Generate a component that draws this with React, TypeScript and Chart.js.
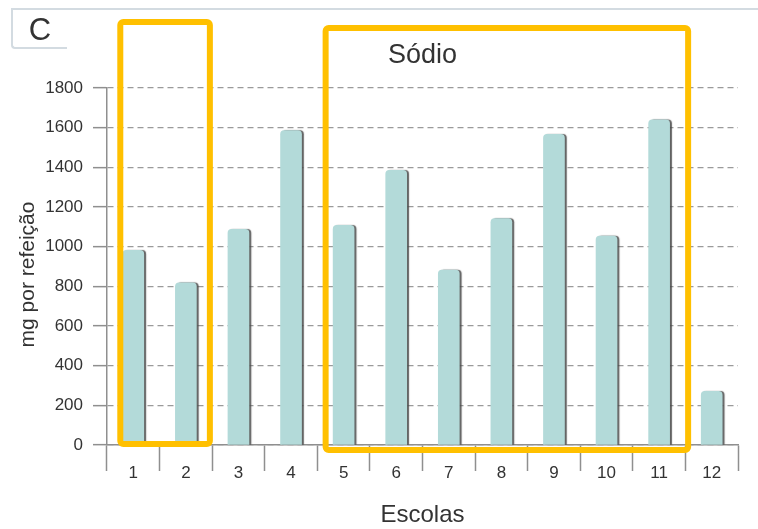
import React, { useEffect, useRef } from "react";
import { Chart, registerables } from "chart.js";

Chart.register(...registerables);

const categories = ["1", "2", "3", "4", "5", "6", "7", "8", "9", "10", "11", "12"];
const sodiumValues = [982, 818, 1088, 1585, 1108, 1385, 882, 1141, 1566, 1053, 1640, 270];
const yTickValues = [0, 200, 400, 600, 800, 1000, 1200, 1400, 1600, 1800];
const titleText = "Sódio";
const xTitle = "Escolas";
const yTitle = "mg por refeição";
const panelLabel = "C";
// highlighted groups of schools (category indexes)
const highlightGroups = [
  { from: 0, to: 1, padLeft: 13, padRight: 24, top: 22, below: -1 },
  { from: 4, to: 10, padLeft: 18, padRight: 29, top: 28, below: 5 },
];

const FONT = "'Liberation Sans', Arial, Helvetica, sans-serif";

const barShadow = {
  id: "barShadow",
  beforeDatasetDraw(chart: any) {
    const ctx = chart.ctx;
    ctx.save();
    ctx.shadowColor = "rgba(70,70,70,0.85)";
    ctx.shadowOffsetX = 2;
    ctx.shadowOffsetY = 0;
    ctx.shadowBlur = 1;
  },
  afterDatasetDraw(chart: any) {
    chart.ctx.restore();
  },
};

const extras = {
  id: "extras",
  afterDraw(chart: any) {
    const ctx = chart.ctx;
    const xs = chart.scales.x;
    const ys = chart.scales.y;
    // y axis title
    ctx.save();
    ctx.translate(28, (ys.top + ys.bottom) / 2 + 8);
    ctx.rotate(-Math.PI / 2);
    ctx.font = `21px ${FONT}`;
    ctx.fillStyle = "#333";
    ctx.textAlign = "center";
    ctx.textBaseline = "middle";
    ctx.fillText(yTitle, 0, 0);
    ctx.restore();
    // highlight rectangles
    ctx.save();
    ctx.strokeStyle = "#FFC000";
    ctx.lineWidth = 6;
    ctx.lineJoin = "round";
    for (const g of highlightGroups) {
      const l = xs.getPixelForValue(g.from) - g.padLeft;
      const r = xs.getPixelForValue(g.to) + g.padRight;
      const b = ys.getPixelForValue(0) + g.below;
      const t = g.top;
      ctx.beginPath();
      ctx.roundRect(l, t, r - l, b - t, 3);
      ctx.stroke();
    }
    ctx.restore();
  },
};

export default function App() {
  const ref = useRef<HTMLCanvasElement>(null);
  useEffect(() => {
    const canvas = ref.current!;
    const chart = new Chart(canvas, {
      type: "bar",
      data: {
        labels: categories,
        datasets: [
          {
            data: sodiumValues,
            backgroundColor: "#B3DAD9",
            borderWidth: 0,
            borderRadius: { topLeft: 4, topRight: 4, bottomLeft: 0, bottomRight: 0 },
            borderSkipped: "bottom",
            barThickness: 21,
          },
        ],
      },
      options: {
        responsive: false,
        animation: false,
        devicePixelRatio: 1,
        layout: { padding: { left: 0, right: 20, top: 0, bottom: 0 } },
        plugins: {
          legend: { display: false },
          tooltip: { enabled: false },
          title: {
            display: true,
            text: titleText,
            fullSize: false,
            color: "#333",
            font: { family: FONT, size: 27, weight: "normal" },
            padding: { top: 39, bottom: 16.6 },
          },
        },
        scales: {
          x: {
            grid: {
              offset: true,
              drawOnChartArea: false,
              drawTicks: true,
              tickLength: 26,
              tickColor: "#8f8f8f",
              tickWidth: 1.5,
            },
            border: { display: true, color: "#8f8f8f", width: 1.5 },
            ticks: {
              color: "#333",
              font: { family: FONT, size: 17 },
              padding: -8,
              maxRotation: 0,
            },
            title: {
              display: true,
              text: xTitle,
              color: "#333",
              font: { family: FONT, size: 24 },
              padding: { top: 0, bottom: -1 },
            },
            afterFit(scale: any) {
              scale.height = 84;
            },
          },
          y: {
            min: 0,
            max: 1800,
            afterBuildTicks(scale: any) {
              scale.ticks = yTickValues.map((v) => ({ value: v }));
            },
            grid: {
              color: "#9a9a9a",
              lineWidth: 1.3,
              drawTicks: true,
              tickLength: 14,
              tickColor: "#8f8f8f",
              tickWidth: 1.5,
              tickBorderDash: [],
            },
            border: { display: true, color: "#8f8f8f", width: 1.5, dash: [6, 4] },
            ticks: {
              color: "#333",
              font: { family: FONT, size: 17 },
              padding: 10,
              callback: (v: any) => String(v),
            },
            afterFit(scale: any) {
              scale.width = 107;
            },
          },
        },
      },
      plugins: [barShadow, extras],
    });
    return () => chart.destroy();
  }, []);

  return (
    <div style={{ position: "absolute", left: 0, top: 0, width: 758, height: 529, background: "#fff" }}>
      <canvas ref={ref} width={758} height={529} style={{ position: "absolute", left: 0, top: 0 }} />
      <div
        style={{
          position: "absolute",
          left: 11,
          top: 8,
          right: 0,
          height: 0,
          borderTop: "2px solid #d3dbe1",
        }}
      />
      <div
        style={{
          position: "absolute",
          left: 11,
          top: 8,
          width: 56,
          height: 41,
          borderLeft: "2px solid #d3dbe1",
          borderBottom: "2px solid #d3dbe1",
          borderBottomLeftRadius: 4,
          boxSizing: "border-box",
        }}
      />
      <div
        style={{
          position: "absolute",
          left: 24,
          top: 12,
          width: 32,
          height: 36,
          lineHeight: "36px",
          fontFamily: FONT,
          fontSize: 31,
          color: "#333",
          textAlign: "center",
        }}
      >
        {panelLabel}
      </div>
    </div>
  );
}
